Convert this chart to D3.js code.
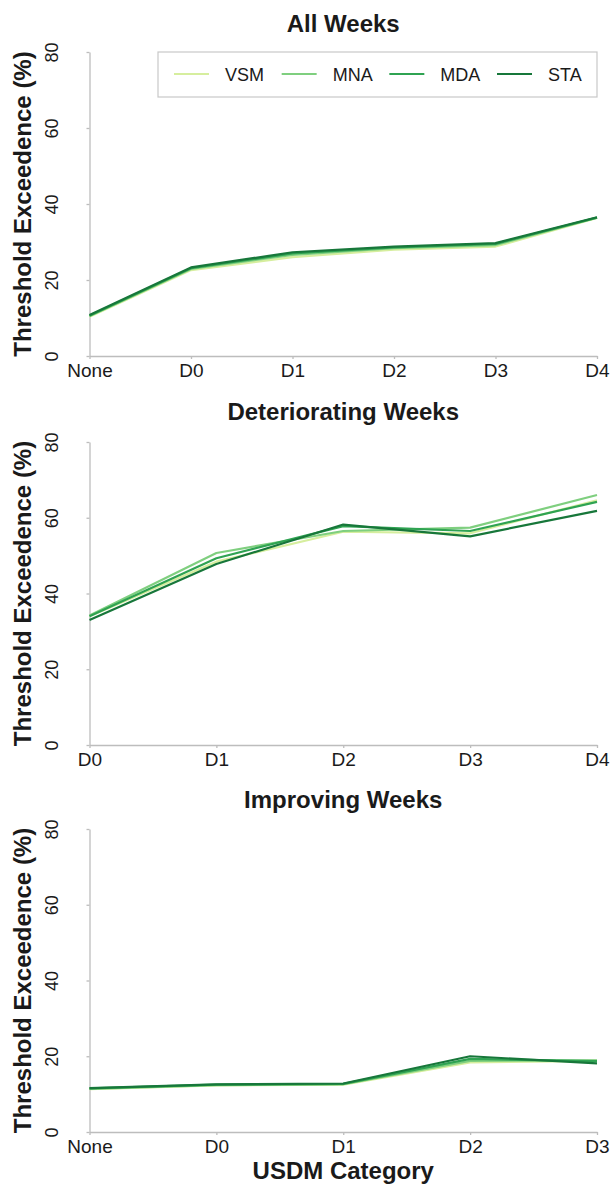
<!DOCTYPE html>
<html>
<head>
<meta charset="utf-8">
<script src="https://cdn.jsdelivr.net/npm/d3@7"></script>
<style>
  html, body { margin: 0; padding: 0; background: #fff; }
  svg { display: block; font-family: "Liberation Sans", Arial, sans-serif; }
</style>
</head>
<body>
<svg id="chart" width="612" height="1189"></svg>
<script>
// ---- Data ----
const seriesNames = ["VSM", "MNA", "MDA", "STA"];
const seriesColors = ["#d6ee9e", "#7fcf7f", "#2fa352", "#17773a"];
const yTicks = [0, 20, 40, 60, 80];

const allCats = ["None", "D0", "D1", "D2", "D3", "D4"];
const allVSM = [10.3, 22.6, 26.0, 28.0, 28.8, 36.3];
const allMNA = [10.5, 22.9, 26.6, 28.4, 29.2, 36.4];
const allMDA = [10.6, 23.1, 27.0, 28.6, 29.5, 36.4];
const allSTA = [10.8, 23.3, 27.3, 28.8, 29.7, 36.5];

const detCats = ["D0", "D1", "D2", "D3", "D4"];
const detVSM = [34.0, 48.4, 56.3, 55.9, 64.6];
const detMNA = [34.2, 50.7, 56.5, 57.4, 66.0];
const detMDA = [34.0, 49.3, 57.8, 56.5, 64.2];
const detSTA = [33.0, 47.8, 58.2, 55.1, 61.8];

const impCats = ["None", "D0", "D1", "D2", "D3"];
const impVSM = [11.3, 12.3, 12.5, 18.4, 18.8];
const impMNA = [11.4, 12.4, 12.6, 18.8, 18.9];
const impMDA = [11.5, 12.5, 12.7, 19.3, 18.7];
const impSTA = [11.6, 12.6, 12.8, 20.0, 18.1];

// ---- Layout ----
const svg = d3.select("#chart");
const xLeft = 89.5, xRight = 597;
const panels = [
  { title: "All Weeks", cats: allCats, series: [allVSM, allMNA, allMDA, allSTA], top: 52, bottom: 356, titleY: 32, legend: true },
  { title: "Deteriorating Weeks", cats: detCats, series: [detVSM, detMNA, detMDA, detSTA], top: 442, bottom: 745, titleY: 420 },
  { title: "Improving Weeks", cats: impCats, series: [impVSM, impMNA, impMDA, impSTA], top: 829, bottom: 1132, titleY: 808, xTitle: "USDM Category" }
];

const axisGrey = "#bdbdbd";
const textCol = "#1a1a1a";

panels.forEach(p => {
  const g = svg.append("g");
  const x = d3.scalePoint().domain(p.cats).range([xLeft, xRight]).padding(0);
  const y = d3.scaleLinear().domain([0, 80]).range([p.bottom, p.top]);

  // Title
  g.append("text")
    .attr("x", (xLeft + xRight) / 2).attr("y", p.titleY)
    .attr("text-anchor", "middle")
    .attr("font-size", 24).attr("font-weight", "bold").attr("fill", textCol)
    .text(p.title);

  // Y axis
  const yAxis = g.append("g").attr("transform", `translate(${xLeft},0)`)
    .call(d3.axisLeft(y).tickValues(yTicks).tickSize(3).tickPadding(0).tickSizeOuter(0));
  yAxis.select(".domain").attr("stroke", axisGrey).attr("stroke-width", 1.3);
  yAxis.selectAll(".tick line").attr("stroke", axisGrey).attr("stroke-width", 1.3);
  yAxis.selectAll(".tick text")
    .attr("x", null).attr("dy", null)
    .attr("transform", `translate(${58 - xLeft},0) rotate(-90)`)
    .attr("text-anchor", "middle")
    .attr("font-size", 18).attr("fill", textCol)
    .attr("font-family", "Liberation Sans, Arial, sans-serif");

  // X axis
  const xAxis = g.append("g").attr("transform", `translate(0,${p.bottom})`)
    .call(d3.axisBottom(x).tickSize(3).tickPadding(0).tickSizeOuter(0));
  xAxis.select(".domain").attr("stroke", axisGrey).attr("stroke-width", 1.3);
  xAxis.selectAll(".tick line").attr("stroke", axisGrey).attr("stroke-width", 1.3);
  xAxis.selectAll(".tick text")
    .attr("y", 21).attr("dy", null)
    .attr("font-size", 19).attr("fill", textCol)
    .attr("font-family", "Liberation Sans, Arial, sans-serif");

  // Y axis title
  g.append("text")
    .attr("transform", `translate(31,${(p.top + p.bottom) / 2}) rotate(-90)`)
    .attr("text-anchor", "middle")
    .attr("font-size", 24).attr("font-weight", "bold").attr("fill", textCol)
    .text("Threshold Exceedence (%)");

  // Lines
  const line = d3.line().x((d, i) => x(p.cats[i])).y(d => y(d));
  p.series.forEach((vals, si) => {
    g.append("path")
      .datum(vals)
      .attr("d", line)
      .attr("fill", "none")
      .attr("stroke", seriesColors[si])
      .attr("stroke-width", 2.2)
      .attr("stroke-linejoin", "round");
  });

  // Legend
  if (p.legend) {
    const lg = g.append("g");
    lg.append("rect")
      .attr("x", 158).attr("y", 52).attr("width", 439).attr("height", 45)
      .attr("fill", "#fff").attr("stroke", "#c8c8c8").attr("stroke-width", 1.2);
    const lx = d3.scaleLinear().domain([0, 3]).range([174, 497]);
    seriesNames.forEach((n, i) => {
      lg.append("line")
        .attr("x1", lx(i)).attr("x2", lx(i) + 35)
        .attr("y1", 74).attr("y2", 74)
        .attr("stroke", seriesColors[i]).attr("stroke-width", 2.2);
      lg.append("text")
        .attr("x", lx(i) + 51).attr("y", 80.5)
        .attr("font-size", 18).attr("fill", textCol)
        .text(n);
    });
  }

  if (p.xTitle) {
    g.append("text")
      .attr("x", (xLeft + xRight) / 2).attr("y", 1179)
      .attr("text-anchor", "middle")
      .attr("font-size", 24).attr("font-weight", "bold").attr("fill", textCol)
      .text(p.xTitle);
  }
});
</script>
</body>
</html>
